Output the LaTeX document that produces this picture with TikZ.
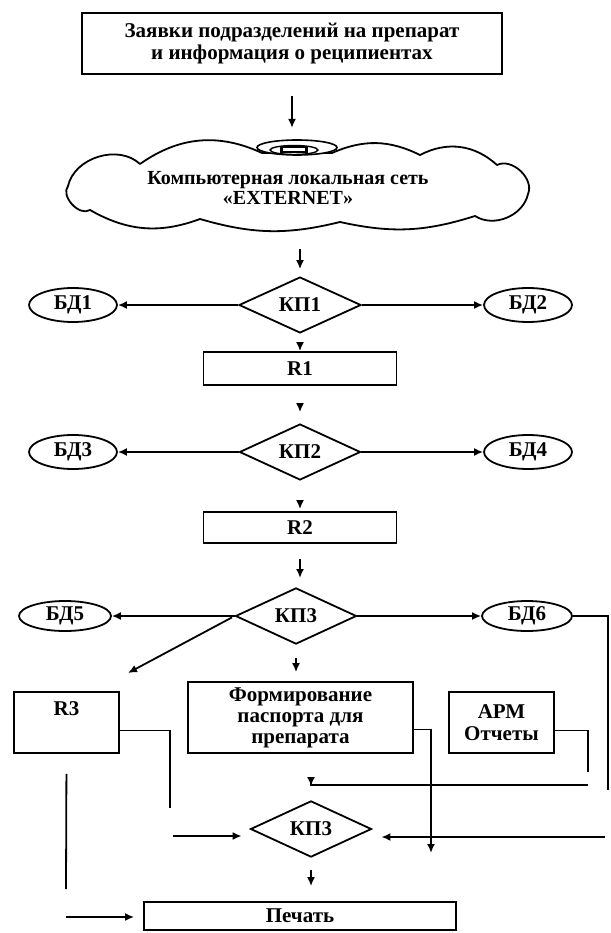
\documentclass[tikz,border=0pt]{standalone}
\usepackage{fontspec}
\setmainfont{Liberation Serif}
\usetikzlibrary{shapes.geometric,arrows.meta,calc}

\newcommand{\blkfont}{\fontsize{21}{22}\selectfont\bfseries}

\tikzset{
  blk/.style={draw, line width=1.8, inner sep=2, align=center, font=\blkfont},
  kp/.style={draw, diamond, line width=1.8, inner sep=0, minimum width=122, minimum height=42, font=\blkfont},
  bd/.style={draw, ellipse, line width=1.8, inner sep=0, minimum width=88, minimum height=34, font=\blkfont},
  ln/.style={line width=1.8},
  arr/.style={line width=1.8, -{Latex[length=9,width=8]}},
}

\begin{document}
\begin{tikzpicture}[x=1pt,y=1pt,yscale=-1,xscale=1]
\useasboundingbox (0,0) rectangle (610,933);

%Shape: Rectangle
\node[blk, minimum width=420, minimum height=61] (zayavki) at (292,43.5) {Заявки подразделений на препарат\\и информация о реципиентах};

%Shape: Cloud
\draw[ln, line join=round] (68,186) to[bend right=60] (140,164) to[bend right=30] (262,153) -- (332,153)
  to[bend right=25] (420,155) to[bend right=35] (497,165) to[bend right=70] (528,194)
  to[bend right=55] (475,216) to[bend right=15] (340,222) to[bend right=15] (200,219)
  to[bend right=25] (90,210) to[bend right=80] cycle;
\node[align=center, font=\fontsize{20}{20}\selectfont\bfseries] (netlbl) at (288,188) {Компьютерная локальная сеть\\«EXTERNET»};
\node[draw, ellipse, fill=white, line width=1.6, minimum width=80, minimum height=15, inner sep=0] (hub) at (297,147.5) {};
\node[draw, ellipse, line width=1.4, minimum width=48, minimum height=9, inner sep=0] (hubin) at (294,150) {};
\node[draw, line width=2.2, minimum width=25, minimum height=5, inner sep=0] (hubcore) at (294,149.5) {};

%Shape: Diamond
\node[kp] (kp1) at (300,305) {КП1};
\node[bd] (bd1) at (73,305) {БД1};
\node[bd] (bd2) at (528,305) {БД2};
\node[blk, minimum width=193, minimum height=33] (r1) at (300,368.5) {R1};

\node[kp, minimum width=121, minimum height=41] (kp2) at (300,452) {КП2};
\node[bd] (bd3) at (73,452) {БД3};
\node[bd] (bd4) at (528,452) {БД4};
\node[blk, minimum width=193, minimum height=31] (r2) at (300,527.5) {R2};

\node[kp, minimum width=121, minimum height=53] (kp3) at (296,616) {КП3};
\node[bd, minimum width=92, minimum height=30] (bd5) at (65,616) {БД5};
\node[bd, minimum width=90, minimum height=30] (bd6) at (527,616) {БД6};

%Shape: Rectangle
\node[blk, minimum width=225, minimum height=71, font=\fontsize{21}{21}\selectfont\bfseries] (form) at (300.5,717.5) {Формирование\\паспорта для\\препарата};
\node[blk, minimum width=105, minimum height=61] (r3) at (66.5,722.5) {R3\\[6pt]~};
\node[blk, minimum width=105, minimum height=61] (apm) at (501.5,722.5) {АРМ\\Отчеты};

\node[kp, minimum width=121, minimum height=47] (kp3b) at (311,829) {КП3};
\node[blk, minimum width=312, minimum height=28] (pechat) at (300,916) {Печать};

%Straight Lines
\draw[arr, shorten <=21] (zayavki.south) -- ++(0,53);
\draw[arr, shorten >=7] ($(kp1.north)+(0,-27)$) -- (kp1.north);
\draw[arr] (kp1.west) -- (bd1.east);
\draw[arr] (kp1.east) -- (bd2.west);
\draw[arr, shorten <=11] (kp1.south) -- (r1.north);
\draw[arr, shorten <=17, shorten >=11] (r1.south) -- (kp2.north);
\draw[arr] (kp2.west) -- (bd3.east);
\draw[arr] (kp2.east) -- (bd4.west);
\draw[arr, shorten <=19, shorten >=2] (kp2.south) -- (r2.north);
\draw[arr, shorten <=15, shorten >=9] (r2.south) -- (r2.south |- kp3.north);
\draw[arr] (kp3.west) -- (bd5.east);
\draw[arr] (kp3.east) -- (bd6.west);
\coordinate (r3in) at (128,673);
\draw[arr, shorten <=3] (kp3.west) -- (r3in);
\draw[arr, shorten <=13, shorten >=9] (kp3.south) -- (kp3.south |- form.north);

%Straight Lines
\coordinate (r3dn) at (170,808);
\draw[ln] ($(r3.east)+(0,8)$) -| (r3dn);
\coordinate (formdn) at (431,853);
\draw[arr] ($(form.east)+(0,12)$) -| (formdn);
\coordinate (apmdn) at (588,772);
\draw[ln] ($(apm.east)+(0,8)$) -| (apmdn);
\coordinate (bd6dn) at (608,790);
\draw[ln] (bd6.east) -| (bd6dn);
\coordinate (topin) at (588,785);
\draw[arr, shorten >=14] (topin) -| (kp3b.north);
\coordinate (lin) at (173,836);
\draw[arr, shorten >=8] (lin) -- (lin -| kp3b.west);
\coordinate (rin) at (605,837);
\draw[arr, shorten >=9] (rin) -- (rin -| kp3b.east);
\draw[arr, shorten <=12, shorten >=15] (kp3b.south) -- (kp3b.south |- pechat.north);
\coordinate (r3lo) at (66,889);
\draw[ln, shorten <=20] (r3.south) -- (r3lo);
\coordinate (pin) at (66,917);
\draw[arr, shorten >=9] (pin) -- (pin -| pechat.west);

\end{tikzpicture}
\end{document}
